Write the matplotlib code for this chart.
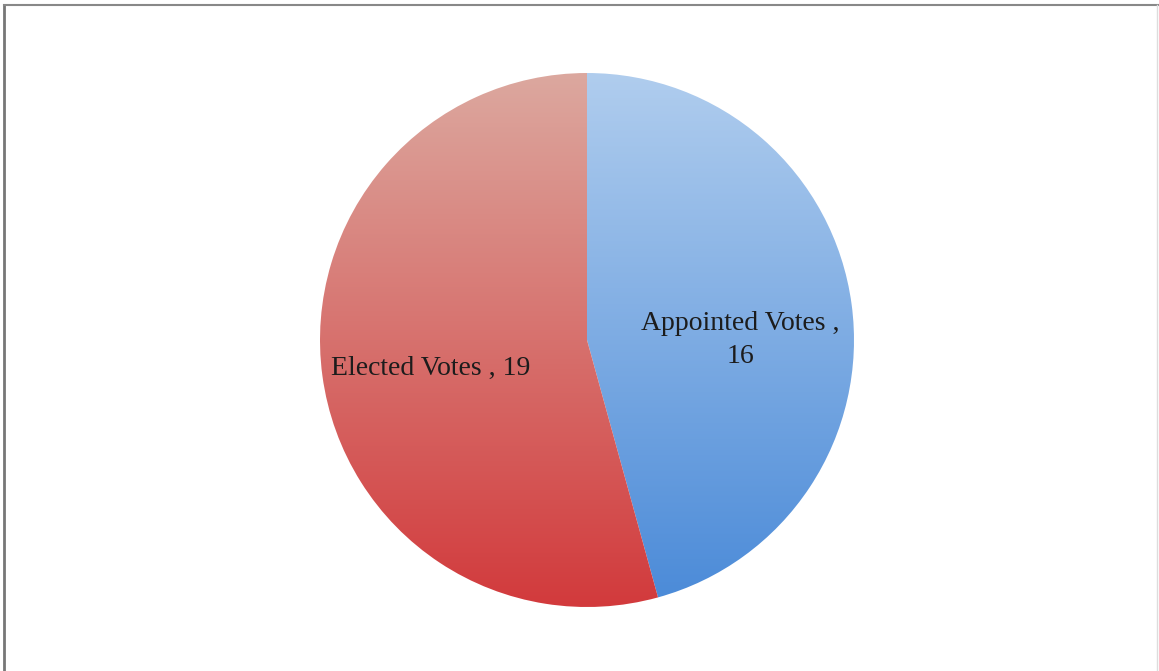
import numpy as np
import matplotlib.pyplot as plt
from matplotlib.colors import LinearSegmentedColormap

labels = ['Appointed Votes', 'Elected Votes']
votes = [16, 19]
top_colors = ['#b0cdee', '#dca89f']
bottom_colors = ['#4a8ad8', '#d23a3c']

W, H = 1159, 671
fig = plt.figure(figsize=(W/100, H/100), dpi=100)
ax = fig.add_axes([0, 0, 1, 1])

cx, cy, r = 587, 331, 267
wedges, _ = ax.pie(votes, startangle=90, counterclock=False, center=(cx, cy),
                   radius=r, frame=True,
                   wedgeprops=dict(linewidth=0, edgecolor='none'))
ax.set_xlim(0, W)
ax.set_ylim(0, H)
ax.axis('off')

#Vertical gradient for each slice, clipped to the wedge
grad = np.linspace(0, 1, 256).reshape(-1, 1)
for w, c0, c1 in zip(wedges, top_colors, bottom_colors):
    cmap = LinearSegmentedColormap.from_list('g', [c1, c0])
    w.set_facecolor('none')
    im = ax.imshow(grad, cmap=cmap, extent=(cx-r, cx+r, cy-r, cy+r),
                   origin='lower', aspect='auto', zorder=1)
    im.set_clip_path(w)

font = dict(family='Liberation Serif', fontsize=20, color='#1c1c1c')
ax.text(740, 331, '%s ,\n%d' % (labels[0], votes[0]), ha='center', va='center',
        linespacing=1.4, **font)
ax.text(431, 303, '%s , %d' % (labels[1], votes[1]), ha='center', va='center', **font)

#Frame lines
ax.plot([4, 4], [0, 666], color='#777777', lw=2)
ax.plot([4, 1159], [666, 666], color='#888888', lw=1.5)
ax.plot([1157, 1157], [0, 666], color='#dddddd', lw=1)

fig.savefig('out.png', dpi=100)
